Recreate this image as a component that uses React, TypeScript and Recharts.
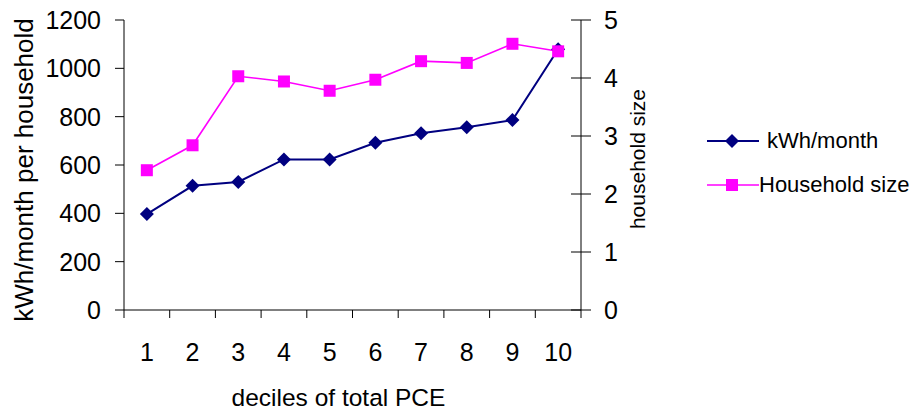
import { LineChart, Line, XAxis, YAxis, Legend } from "recharts";

const deciles = [1, 2, 3, 4, 5, 6, 7, 8, 9, 10];
const kwhPerMonth = [397, 514, 530, 623, 623, 692, 731, 756, 786, 1079];
const householdSize = [2.41, 2.84, 4.03, 3.94, 3.78, 3.97, 4.29, 4.26, 4.59, 4.46];
const kwhTicks = [0, 200, 400, 600, 800, 1000, 1200];
const sizeTicks = [0, 1, 2, 3, 4, 5];
const seriesKeys = ["kwh", "size"];

const data = deciles.map((d, i) => ({
  decile: d,
  kwh: kwhPerMonth[i],
  size: householdSize[i],
}));

// boundaries between deciles get a tick mark, deciles themselves get a label
const xTicks = [...deciles.flatMap((d) => [d - 0.5, d]), deciles[deciles.length - 1] + 0.5];

const FONT = "'Liberation Sans', Arial, sans-serif";
const NAVY = "#000080";
const MAGENTA = "#FF00FF";

const Diamond = (props: any) => {
  const { cx, cy } = props;
  if (cx == null || cy == null) return null;
  return (
    <path
      key={props.key}
      d={`M${cx} ${cy - 7}L${cx + 7} ${cy}L${cx} ${cy + 7}L${cx - 7} ${cy}Z`}
      fill={NAVY}
    />
  );
};

const Square = (props: any) => {
  const { cx, cy } = props;
  if (cx == null || cy == null) return null;
  return <rect key={props.key} x={cx - 6} y={cy - 6} width={12} height={12} fill={MAGENTA} />;
};

const XTick = (props: any) => {
  const { x, y, payload } = props;
  if (Number.isInteger(payload.value)) {
    return (
      <text x={x} y={y + 51} textAnchor="middle" fontSize={25} fontFamily={FONT} fill="#000">
        {payload.value}
      </text>
    );
  }
  return <line x1={x} y1={y} x2={x} y2={y + 8} stroke="#000" />;
};

const RightTick = (props: any) => {
  const { x, y, payload } = props;
  return (
    <g>
      <line x1={x - 10} y1={y} x2={x + 10} y2={y} stroke="#000" />
      <text x={x + 23} y={y + 9} textAnchor="start" fontSize={25} fontFamily={FONT} fill="#000">
        {payload.value}
      </text>
    </g>
  );
};

const VLabel = (props: any) => {
  const { viewBox, value, dx, dy, size } = props;
  const cx = viewBox.x + dx;
  const cy = viewBox.y + viewBox.height / 2 + dy;
  return (
    <text
      x={cx}
      y={cy}
      transform={`rotate(-90 ${cx} ${cy})`}
      textAnchor="middle"
      dominantBaseline="central"
      fontSize={size}
      fontFamily={FONT}
      fill="#000"
    >
      {value}
    </text>
  );
};

const XLabel = (props: any) => {
  const { viewBox, value } = props;
  return (
    <text
      x={viewBox.x + viewBox.width / 2 - 14}
      y={viewBox.y + 96}
      textAnchor="middle"
      fontSize={24.5}
      fontFamily={FONT}
      fill="#000"
    >
      {value}
    </text>
  );
};

const LegendContent = (props: any) => {
  const items = [...(props.payload || [])].sort(
    (a: any, b: any) => seriesKeys.indexOf(a.dataKey) - seriesKeys.indexOf(b.dataKey)
  );
  return (
    <div style={{ fontFamily: FONT, fontSize: 22, color: "#000", whiteSpace: "nowrap" }}>
      {items.map((entry: any, i: number) => (
        <div key={entry.value} style={{ display: "flex", alignItems: "center", height: 44 }}>
          <svg width={52} height={16} style={{ marginRight: i === 0 ? 8 : 0 }}>
            <line x1={0} y1={8} x2={52} y2={8} stroke={entry.color} strokeWidth={i === 0 ? 2 : 1.5} />
            {i === 0 ? (
              <path d="M25 1L32 8L25 15L18 8Z" fill={entry.color} />
            ) : (
              <rect x={19} y={2} width={12} height={12} fill={entry.color} />
            )}
          </svg>
          <span>{entry.value}</span>
        </div>
      ))}
    </div>
  );
};

export default function App() {
  return (
    <div style={{ width: 916, height: 410, background: "#fff" }}>
      <style>{`body{margin:0}`}</style>
      <LineChart
        width={916}
        height={410}
        data={data}
        margin={{ top: 20, right: 255, left: 0, bottom: 0 }}
      >
        <XAxis
          dataKey="decile"
          type="number"
          domain={[0.5, 10.5]}
          ticks={xTicks}
          interval={0}
          tickLine={false}
          tickSize={0}
          tickMargin={0}
          tick={<XTick />}
          height={100}
          stroke="#000"
          label={<XLabel value="deciles of total PCE" />}
        />
        <YAxis
          yAxisId="left"
          domain={[0, 1200]}
          ticks={kwhTicks}
          interval={0}
          width={124}
          tickSize={9}
          tickMargin={14}
          stroke="#000"
          tick={{ fill: "#000", fontSize: 25, fontFamily: FONT }}
          label={<VLabel value="kWh/month per household" dx={24} dy={5} size={26} />}
        />
        <YAxis
          yAxisId="right"
          orientation="right"
          domain={[0, 5]}
          ticks={sizeTicks}
          interval={0}
          width={80}
          tickLine={false}
          tickSize={0}
          tickMargin={0}
          stroke="#000"
          tick={<RightTick />}
          label={<VLabel value="household size" dx={56} dy={-6} size={21} />}
        />
        <Legend
          layout="horizontal"
          verticalAlign="middle"
          align="center"
          wrapperStyle={{ left: 707, top: 119, width: 209 }}
          content={<LegendContent />}
        />
        <Line
          yAxisId="left"
          dataKey="kwh"
          name="kWh/month"
          stroke={NAVY}
          strokeWidth={2}
          dot={<Diamond />}
          isAnimationActive={false}
        />
        <Line
          yAxisId="right"
          dataKey="size"
          name="Household size"
          stroke={MAGENTA}
          strokeWidth={1.6}
          dot={<Square />}
          isAnimationActive={false}
        />
      </LineChart>
    </div>
  );
}
